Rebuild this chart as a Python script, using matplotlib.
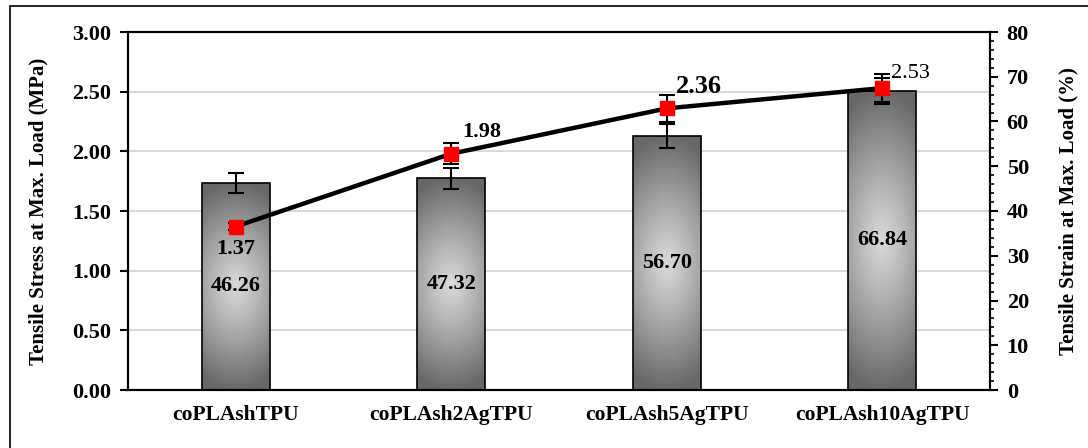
#!/usr/bin/python

import numpy as np
import matplotlib
matplotlib.use("Agg")
import matplotlib.pyplot as plt
from matplotlib.lines import Line2D
from matplotlib.patches import Rectangle

samples = ["coPLAshTPU", "coPLAsh2AgTPU", "coPLAsh5AgTPU", "coPLAsh10AgTPU"]
strain = [46.26, 47.32, 56.70, 66.84]      # bars, right axis (%)
strain_err = [2.3, 2.4, 2.7, 2.9]
stress = [1.37, 1.98, 2.36, 2.53]          # line, left axis (MPa)
stress_err = [0.03, 0.09, 0.11, 0.12]

stress_ticks = [0.0, 0.5, 1.0, 1.5, 2.0, 2.5, 3.0]
strain_ticks = [0, 10, 20, 30, 40, 50, 60, 70, 80]

plt.rcParams['font.family'] = ['Liberation Serif', 'DejaVu Serif']
plt.rcParams['font.weight'] = 'bold'


def gradient_fill(ax, bar, light=0.85, dark=0.41):
    """ Fill a bar with a centre-light path gradient """
    x0, y0 = bar.get_x(), bar.get_y()
    w, h = bar.get_width(), bar.get_height()
    gx, gy = np.meshgrid(np.linspace(-1, 1, 60), np.linspace(-1, 1, 200))
    r = np.clip(np.sqrt(gx ** 2 * 0.25 + gy ** 2), 0, 1)
    val = light - (light - dark) * r ** 1.1
    img = ax.imshow(val, cmap='gray', vmin=0, vmax=1, aspect='auto',
                    extent=[x0, x0 + w, y0, y0 + h], origin='lower',
                    interpolation='bilinear', zorder=2)
    img.set_clip_path(bar)


fig = plt.figure(figsize=(10.88, 4.48), dpi=100)
fig.patches.append(Rectangle((10 / 1088, -0.05), 1.2, 0.05 + (448 - 6) / 448,
                             transform=fig.transFigure, fill=False,
                             edgecolor='black', linewidth=1.2))

ax2 = fig.add_axes([128 / 1088, 58 / 448, 862 / 1088, 358 / 448])
ax = ax2.twinx()
ax.yaxis.tick_left()
ax.yaxis.set_label_position('left')
ax2.yaxis.tick_right()
ax2.yaxis.set_label_position('right')

x = np.arange(len(samples))

# grid lines at the stress ticks, behind the bars
for t in stress_ticks[1:-1]:
    ax2.add_line(Line2D([0, 1], [t, t], transform=ax.get_yaxis_transform(),
                        color='#d9d9d9', linewidth=1.5, zorder=0))

bars = ax2.bar(x, strain, width=0.315, facecolor='none', edgecolor='black',
               linewidth=1.2, zorder=3)
for b in bars:
    gradient_fill(ax2, b)
ax2.errorbar(x, strain, yerr=strain_err, fmt='none', ecolor='black',
             elinewidth=1.5, capsize=6, capthick=1.5, zorder=4)
for xi, s in zip(x, strain):
    ax2.text(xi, s / 2, "%.2f" % s, ha='center', va='center', fontsize=16,
             fontweight='bold', zorder=5)

ax.errorbar(x, stress, yerr=stress_err, fmt='none', ecolor='black',
            elinewidth=1.5, capsize=6, capthick=1.5, zorder=3)
ax.plot(x, stress, color='black', linewidth=3.2, marker='s', markersize=10,
        markerfacecolor='red', markeredgecolor='red', zorder=4)

ax.text(x[0], stress[0] - 0.19, "1.37", ha='center', va='center', fontsize=16, fontweight='bold')
ax.text(x[1] + 0.14, stress[1] + 0.18, "1.98", ha='center', va='center', fontsize=16, fontweight='bold')
ax.text(x[2] + 0.15, stress[2] + 0.18, "2.36", ha='center', va='center', fontsize=19, fontweight='bold')
ax.text(x[3] + 0.13, stress[3] + 0.12, "2.53", ha='center', va='center', fontsize=16, fontweight='normal')

ax.set_xlim(-0.5, 3.5)
ax.set_ylim(0, 3)
ax2.set_ylim(0, 80)
ax.set_yticks(stress_ticks)
ax.set_yticklabels(["%.2f" % t for t in stress_ticks])
ax2.set_yticks(strain_ticks)
ax2.set_yticks(np.arange(0, 81, 2), minor=True)
ax2.set_xticks(x)
ax2.set_xticklabels(samples)

ax.set_ylabel("Tensile Stress at Max. Load (MPa)", fontsize=15, fontweight='bold', labelpad=17)
ax2.set_ylabel("Tensile Strain at Max. Load (%)", fontsize=15, fontweight='bold', labelpad=21)

ax.tick_params(axis='y', direction='out', length=6, width=1.5, labelsize=16, pad=6)
ax2.tick_params(axis='y', which='major', direction='out', length=6, width=1.5, labelsize=16, pad=6)
ax2.tick_params(axis='y', which='minor', direction='out', length=3, width=1.2)
ax2.tick_params(axis='x', length=0, labelsize=15.5, pad=11)
ax.tick_params(axis='x', length=0)

for a in (ax, ax2):
    for sp in a.spines.values():
        sp.set_linewidth(1.5)
        sp.set_color('black')

fig.savefig("out.png", dpi=100)
